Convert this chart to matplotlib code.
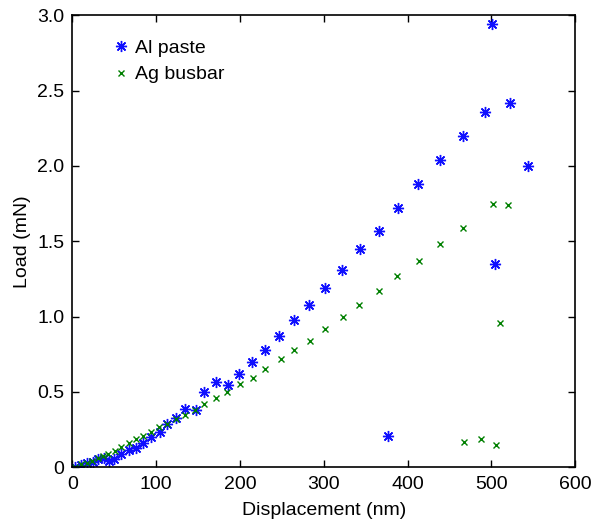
import matplotlib.pyplot as plt

plt.rcParams['font.family'] = ['Liberation Sans', 'DejaVu Sans']

# Al paste
al_x = [3, 10, 17, 24, 30, 38, 44, 49, 58, 68, 76, 84, 94, 104, 113, 124, 134,
        147, 157, 171, 186, 199, 214, 230, 247, 264, 282, 301, 322, 343, 366,
        389, 413, 439, 466, 492, 501, 522, 544, 504, 377]
al_y = [0.0, 0.015, 0.03, 0.035, 0.055, 0.06, 0.045, 0.055, 0.087, 0.115, 0.13,
        0.16, 0.2, 0.235, 0.285, 0.33, 0.385, 0.38, 0.50, 0.565, 0.545, 0.62,
        0.70, 0.78, 0.87, 0.975, 1.075, 1.19, 1.31, 1.45, 1.57, 1.72, 1.88,
        2.04, 2.20, 2.36, 2.94, 2.42, 2.00, 1.35, 0.21]

# Ag busbar
ag_x = [3, 10, 17, 23, 30, 36, 43, 51, 58, 67, 76, 84, 94, 103, 113, 124, 134,
        146, 157, 171, 184, 200, 215, 230, 249, 265, 283, 302, 323, 342, 366,
        388, 414, 439, 466, 502, 520, 511, 468, 488, 506]
ag_y = [0.0, 0.02, 0.03, 0.045, 0.06, 0.075, 0.09, 0.11, 0.135, 0.16, 0.185,
        0.21, 0.235, 0.27, 0.29, 0.32, 0.35, 0.38, 0.42, 0.46, 0.50, 0.55, 0.59,
        0.65, 0.72, 0.78, 0.84, 0.92, 1.00, 1.08, 1.17, 1.27, 1.37, 1.48, 1.59,
        1.75, 1.74, 0.96, 0.17, 0.19, 0.145]

fig = plt.figure(figsize=(5.99, 5.20), dpi=100)
ax = fig.add_axes([0.121, 0.1013, 0.839, 0.8693])

ax.plot(al_x, al_y, linestyle='none', marker=(8, 2, 0), markersize=8,
        markeredgewidth=1.0, color='#1010ff', label='Al paste')
ax.plot(ag_x, ag_y, linestyle='none', marker='x', markersize=4.5,
        markeredgewidth=1.0, color='#008000', label='Ag busbar')

ax.set_xlim(0, 600)
ax.set_ylim(0, 3.0)
ax.set_xticks([0, 100, 200, 300, 400, 500, 600])
ax.set_yticks([0, 0.5, 1.0, 1.5, 2.0, 2.5, 3.0])
ax.set_yticklabels(['0', '0.5', '1.0', '1.5', '2.0', '2.5', '3.0'])
ax.tick_params(direction='in', top=True, right=True, length=5, width=1,
               labelsize=14, pad=6)
for sp in ax.spines.values():
    sp.set_linewidth(1.2)

ax.set_xlabel('Displacement (nm)', fontsize=14, labelpad=7)
ax.set_ylabel('Load (mN)', fontsize=14, labelpad=4)

ax.legend(loc='upper left', frameon=False, fontsize=14, handletextpad=0.1,
          borderaxespad=0.0, bbox_to_anchor=(0.058, 0.964), labelspacing=0.45,
          handlelength=1.2)

fig.savefig('out.png', dpi=100)
